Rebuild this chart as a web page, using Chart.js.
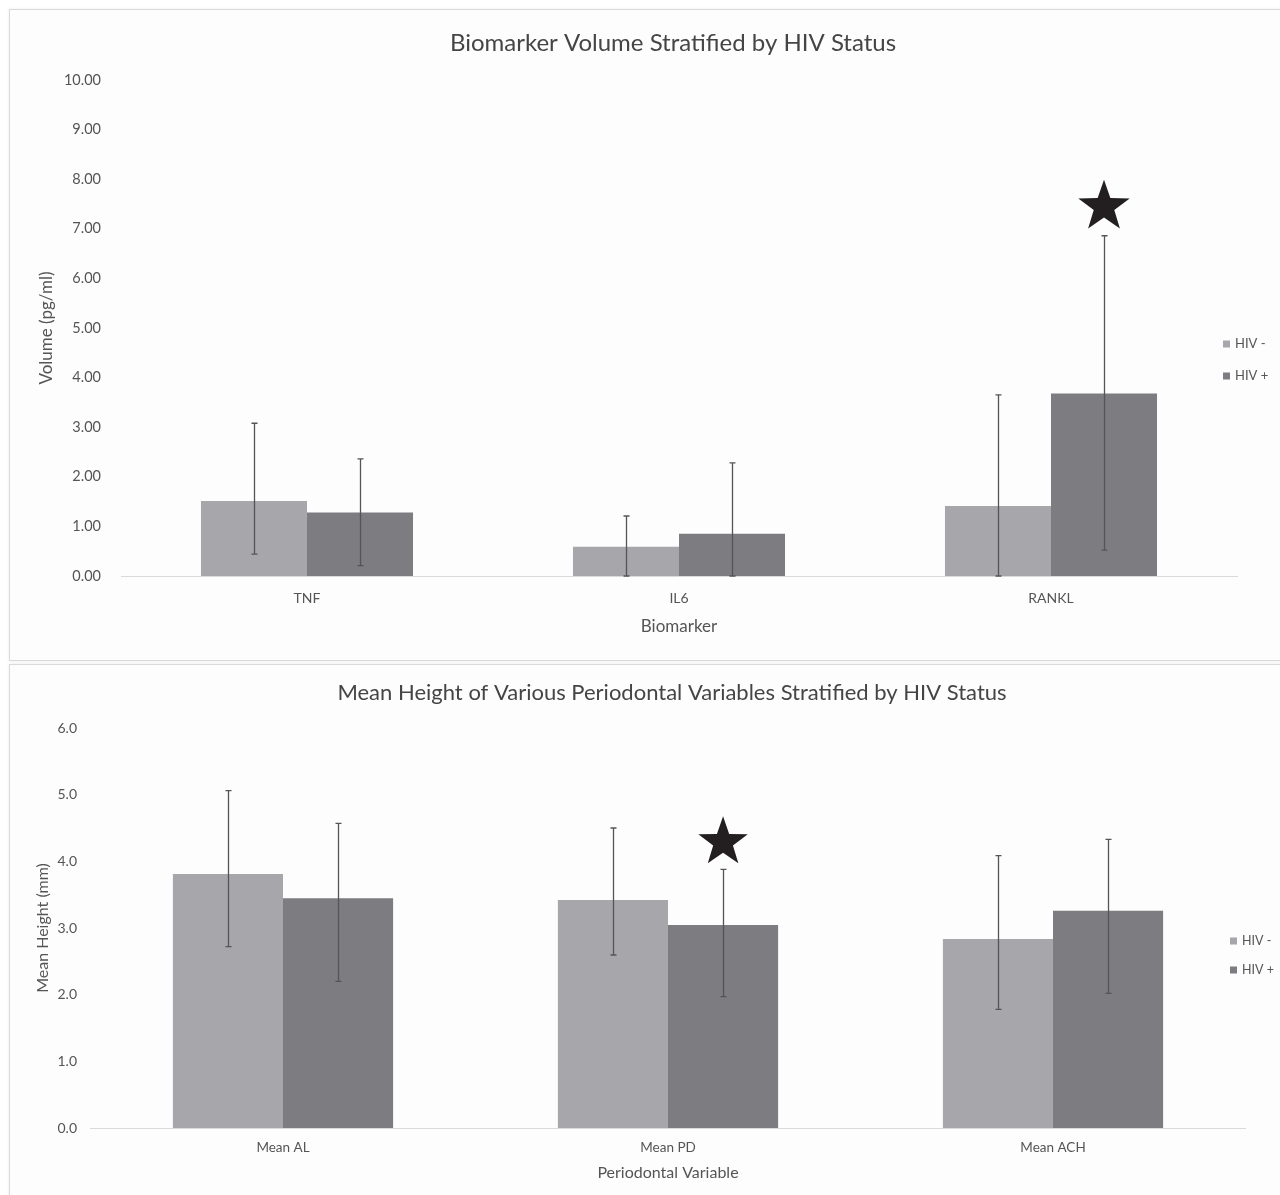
<!DOCTYPE html>
<html>
<head>
<meta charset="utf-8">
<script src="https://cdn.jsdelivr.net/npm/chart.js@4.4.0/dist/chart.umd.min.js"></script>
<style>
body { margin:0; background:#fff; width:1280px; height:1195px; overflow:hidden; position:relative; }
.panel { position:absolute; border:1px solid #d9d9d9; background:#fdfdfd; box-shadow:0 0 3px rgba(0,0,0,0.08); }
#p1 { left:9px; top:9px; width:1280px; height:650px; }
#p2 { left:9px; top:664px; width:1280px; height:540px; }
canvas { position:absolute; left:0; top:0; }
</style>
</head>
<body>
<div class="panel" id="p1"><canvas id="bioChart" width="1270" height="650"></canvas></div>
<div class="panel" id="p2"><canvas id="perioChart" width="1270" height="530"></canvas></div>
<script>
// series names
var seriesLabels = ["HIV -", "HIV +"];
var seriesColors = ["#a6a6ab", "#7c7c81"];

// chart 1: biomarker volume (pg/ml)
var biomarkers = ["TNF", "IL6", "RANKL"];
var bioHivNeg = [1.51, 0.59, 1.41];
var bioHivPos = [1.28, 0.85, 3.68];
var bioNegLow = [0.44, 0, 0];
var bioNegHigh = [3.08, 1.21, 3.65];
var bioPosLow = [0.21, 0, 0.52];
var bioPosHigh = [2.36, 2.28, 6.86];
var bioStars = [{dataset: 1, index: 2}];

// chart 2: periodontal variables (mm)
var perioVars = ["Mean AL", "Mean PD", "Mean ACH"];
var perioHivNeg = [3.81, 3.42, 2.835];
var perioHivPos = [3.445, 3.045, 3.26];
var perioNegLow = [2.72, 2.595, 1.78];
var perioNegHigh = [5.06, 4.50, 4.085];
var perioPosLow = [2.2, 1.97, 2.02];
var perioPosHigh = [4.57, 3.88, 4.33];
var perioStars = [{dataset: 1, index: 1}];

var FONT = "Lato, 'Open Sans', sans-serif";
var TXT = "#555555";

function drawStar(ctx, cx, cy, r){
    ctx.beginPath();
    for (var k = 0; k < 10; k++){
        var rad = (k % 2 == 0) ? r : r * 0.4;
        var a = -Math.PI / 2 + k * Math.PI / 5;
        var px = cx + rad * Math.cos(a), py = cy + rad * Math.sin(a);
        if (k == 0) ctx.moveTo(px, py); else ctx.lineTo(px, py);
    }
    ctx.closePath();
    ctx.fillStyle = "#231f20";
    ctx.fill();
}

// error bars, stars, title, legend
var extrasPlugin = {
    id: 'extras',
    afterDatasetsDraw: function(chart, args, opts){
        var ctx = chart.ctx;
        var y = chart.scales.y;
        ctx.save();
        ctx.strokeStyle = "#555555";
        ctx.lineWidth = 1.3;
        chart.data.datasets.forEach(function(ds, i){
            var meta = chart.getDatasetMeta(i);
            meta.data.forEach(function(bar, j){
                var x = Math.round(bar.x) + 0.5;
                var top = y.getPixelForValue(ds.errHigh[j]);
                var bot = y.getPixelForValue(ds.errLow[j]);
                ctx.beginPath();
                ctx.moveTo(x, top); ctx.lineTo(x, bot);
                ctx.moveTo(x - 3, top); ctx.lineTo(x + 3, top);
                ctx.moveTo(x - 3, bot); ctx.lineTo(x + 3, bot);
                ctx.stroke();
            });
        });
        (opts.stars || []).forEach(function(s){
            var bar = chart.getDatasetMeta(s.dataset).data[s.index];
            var ds = chart.data.datasets[s.dataset];
            var top = y.getPixelForValue(ds.errHigh[s.index]);
            drawStar(ctx, bar.x, top - opts.starGap, opts.starSize);
        });
        ctx.restore();
    },
    afterDraw: function(chart, args, opts){
        var ctx = chart.ctx;
        var area = chart.chartArea;
        ctx.save();
        ctx.fillStyle = "#454545";
        ctx.font = opts.titleSize + "px " + FONT;
        ctx.textAlign = "center";
        ctx.textBaseline = "middle";
        ctx.fillText(opts.title, (area.left + area.right) / 2 + opts.titleDx, area.top - opts.titleDy);

        ctx.font = opts.legendSize + "px " + FONT;
        ctx.textAlign = "left";
        chart.data.datasets.forEach(function(ds, i){
            var ly = opts.legendY + i * opts.legendGap;
            ctx.fillStyle = ds.backgroundColor;
            ctx.fillRect(opts.legendX, ly - 3.5, 7, 7);
            ctx.fillStyle = TXT;
            ctx.fillText(ds.label, opts.legendX + 12, ly);
        });
        ctx.restore();
    }
};

function makeChart(id, cats, neg, pos, negLo, negHi, posLo, posHi, cfg){
    return new Chart(id, {
        type: 'bar',
        data: {
            labels: cats,
            datasets: [
                {label: seriesLabels[0], data: neg, backgroundColor: seriesColors[0], errLow: negLo, errHigh: negHi},
                {label: seriesLabels[1], data: pos, backgroundColor: seriesColors[1], errLow: posLo, errHigh: posHi}
            ]
        },
        options: {
            responsive: false,
            animation: false,
            categoryPercentage: cfg.catPct,
            barPercentage: 1.0,
            layout: {padding: {top: cfg.padTop, right: cfg.padRight, left: 0, bottom: 0}},
            plugins: {
                legend: {display: false},
                title: {display: false},
                tooltip: {enabled: false},
                extras: cfg.extras
            },
            scales: {
                x: {
                    grid: {display: false, drawTicks: false},
                    border: {display: true, color: "#d9d9d9", width: 1},
                    ticks: {color: TXT, font: {family: FONT, size: cfg.xTickSize}, padding: cfg.xTickPad},
                    title: {display: true, text: cfg.xTitle, color: TXT, font: {family: FONT, size: cfg.axisTitleSize}, padding: {top: 0, bottom: cfg.xTitlePad}},
                    afterFit: function(s){ s.height = cfg.xHeight; }
                },
                y: {
                    min: 0, max: cfg.yMax,
                    grid: {display: false, drawTicks: false},
                    border: {display: false},
                    ticks: {stepSize: 1, color: TXT, font: {family: FONT, size: cfg.yTickSize}, padding: cfg.yTickPad,
                        callback: function(v){ return v.toFixed(cfg.decimals); }},
                    title: {display: true, text: cfg.yTitle, color: TXT, font: {family: FONT, size: cfg.axisTitleSize}, padding: {top: cfg.yTitlePad, bottom: 0}},
                    afterFit: function(s){ s.width = cfg.yWidth; }
                }
            }
        },
        plugins: [extrasPlugin]
    });
}

makeChart("bioChart", biomarkers, bioHivNeg, bioHivPos, bioNegLow, bioNegHigh, bioPosLow, bioPosHigh, {
    catPct: 0.57, padTop: 70, padRight: 43, yMax: 10, decimals: 2,
    xTickSize: 14, yTickSize: 14.5, axisTitleSize: 17, xTickPad: 14.5, xTitlePad: 23, xHeight: 84,
    yTickPad: 20, yTitlePad: 26, yWidth: 111,
    xTitle: "Biomarker", yTitle: "Volume (pg/ml)",
    extras: {title: "Biomarker Volume Stratified by HIV Status", titleSize: 24, titleDx: -6, titleDy: 37,
        legendX: 1213, legendY: 334, legendGap: 32, legendSize: 13,
        stars: bioStars, starGap: 29, starSize: 27}
});

makeChart("perioChart", perioVars, perioHivNeg, perioHivPos, perioNegLow, perioNegHigh, perioPosLow, perioPosHigh, {
    catPct: 0.572, padTop: 63, padRight: 34.5, yMax: 6, decimals: 1,
    xTickSize: 13.5, yTickSize: 14, axisTitleSize: 16, xTickPad: 12, xTitlePad: 12.5, xHeight: 67,
    yTickPad: 13.5, yTitlePad: 23.5, yWidth: 80.5,
    xTitle: "Periodontal Variable", yTitle: "Mean Height (mm)",
    extras: {title: "Mean Height of Various Periodontal Variables Stratified by HIV Status", titleSize: 22, titleDx: 4, titleDy: 35,
        legendX: 1220, legendY: 276, legendGap: 29, legendSize: 12.5,
        stars: perioStars, starGap: 27, starSize: 26}
});
</script>
</body>
</html>
